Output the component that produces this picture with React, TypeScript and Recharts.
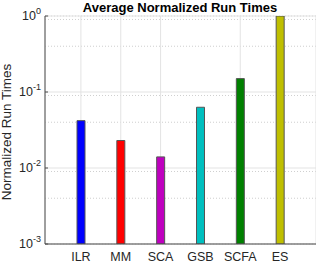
import { BarChart, Bar, Cell, XAxis, YAxis, CartesianGrid } from 'recharts';

const methods = ['ILR', 'MM', 'SCA', 'GSB', 'SCFA', 'ES'];
const runTimes = [0.042, 0.023, 0.014, 0.063, 0.15, 1.0];
const barColors = ['#0000ff', '#ff0000', '#bf00bf', '#00bfbf', '#008000', '#bfbf00'];
const decadeTicks = [0.001, 0.01, 0.1, 1];
const decadeExponents = ['-3', '-2', '-1', '0'];
const minorMultipliers = [2, 3, 4, 5, 6, 7, 8, 9];

const data = methods.map((name, i) => ({ name, value: runTimes[i] }));
const minorTicks = decadeTicks.slice(0, -1).flatMap((d) => minorMultipliers.map((m) => d * m));

const font = 'Liberation Sans, Arial, sans-serif';

const PowerTick = (props: any) => {
  const { y, payload } = props;
  const idx = decadeTicks.indexOf(payload.value);
  return (
    <text x={41} y={y + 4} textAnchor="end" fontFamily={font} fontSize={12.5} fill="#262626">
      <tspan>10</tspan>
      <tspan dy={-6} fontSize={9}>{decadeExponents[idx]}</tspan>
    </text>
  );
};

const App = () => {
  return (
    <div style={{ position: 'relative', width: 316, height: 263, background: '#fff' }}>
      <style>{`body{margin:0}`}</style>
      <div
        style={{
          position: 'absolute', left: 0, width: 360, top: 0, textAlign: 'center',
          fontFamily: font, fontSize: 13, fontWeight: 'bold', color: '#000',
        }}
      >
        Average Normalized Run Times
      </div>
      <div
        style={{
          position: 'absolute', left: 6, top: 132, transform: 'translate(-50%, -50%) rotate(-90deg)',
          whiteSpace: 'nowrap', fontFamily: font, fontSize: 13.5, color: '#262626',
        }}
      >
        Normalized Run Times
      </div>
      <BarChart
        width={316}
        height={263}
        data={data}
        margin={{ top: 16, right: 0, bottom: 0, left: 0 }}
        style={{ position: 'absolute', left: 0, top: 0 }}
      >
        <CartesianGrid stroke="#cfcfcf" strokeDasharray="1 2" vertical={false} yAxisId="minor" />
        <CartesianGrid stroke="#e3e3e3" />
        <XAxis
          dataKey="name"
          height={19}
          padding={{ left: 16, right: 16 }}
          tickLine={false}
          axisLine={{ stroke: '#4d4d4d' }}
          tick={{ fontFamily: font, fontSize: 12.5, fill: '#262626' }}
          tickMargin={2}
        />
        <YAxis
          width={45}
          scale="log"
          type="number"
          domain={[0.001, 1]}
          ticks={decadeTicks}
          allowDataOverflow
          tickSize={-3}
          tickLine={{ stroke: '#4d4d4d' }}
          axisLine={{ stroke: '#4d4d4d' }}
          tick={<PowerTick />}
        />
        <YAxis
          yAxisId="minor"
          hide
          scale="log"
          type="number"
          domain={[0.001, 1]}
          ticks={minorTicks}
          allowDataOverflow
        />
        <Bar dataKey="value" barSize={8} stroke="#555" strokeWidth={1} isAnimationActive={false}>
          {data.map((d, i) => (
            <Cell key={d.name} fill={barColors[i]} />
          ))}
        </Bar>
      </BarChart>
    </div>
  );
};

export default App;
